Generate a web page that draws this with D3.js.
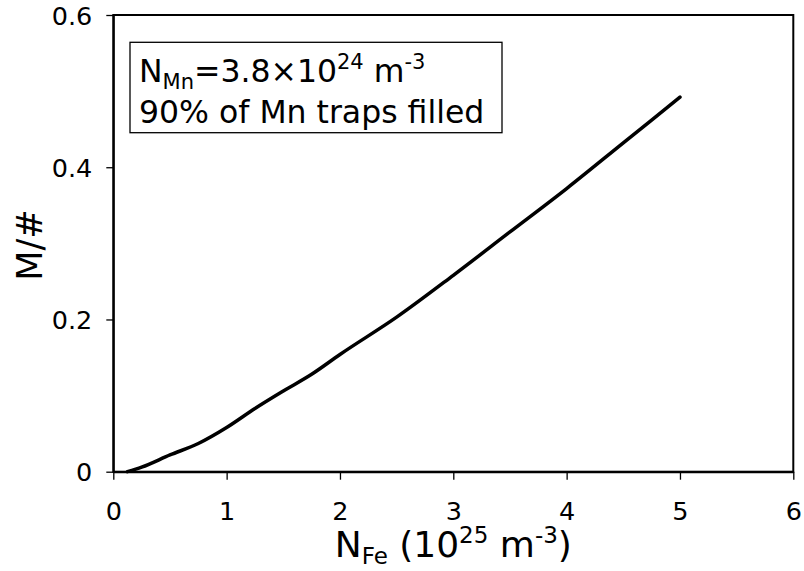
<!DOCTYPE html>
<html>
<head>
<meta charset="utf-8">
<script src="https://cdn.jsdelivr.net/npm/d3@7"></script>
<style>
  body { margin: 0; background: #fff; }
  svg text { font-family: "DejaVu Sans", Verdana, sans-serif; fill: #000; }
</style>
</head>
<body>
<div id="chart"></div>
<script>
(function () {

    var width = 804;
    var height = 571;

    // N_Fe in 10^25 m^-3, magnetisation per formula unit
    var nFe = [0.125, 0.25, 0.5, 0.75, 1.0, 1.25, 1.5, 1.75, 2.0, 2.5, 3.0, 3.5, 4.0, 4.5, 5.0];
    var moment = [0.0, 0.006, 0.022, 0.037, 0.058, 0.083, 0.106, 0.128, 0.154, 0.203, 0.258, 0.315, 0.372, 0.432, 0.492];

    var xTicks = [0, 1, 2, 3, 4, 5, 6];
    var yTicks = [0, 0.2, 0.4, 0.6];
    var yTickLabels = ["0", "0.2", "0.4", "0.6"];

    var margin = { left: 113.3, right: 10.7, top: 15, bottom: 99.3 };
    var w = width - margin.left - margin.right;
    var h = height - margin.top - margin.bottom;

    var svg = d3.select("#chart")
        .append("svg")
        .attr("width", width)
        .attr("height", height);

    var g = svg.append("g")
        .attr("transform", "translate(" + margin.left + "," + margin.top + ")");

    var x = d3.scaleLinear().domain([0, 6]).range([0, w]);
    var y = d3.scaleLinear().domain([0, 0.6]).range([h, 0]);

    // plot frame
    g.append("rect")
        .attr("width", w)
        .attr("height", h)
        .attr("fill", "none")
        .attr("stroke", "#000")
        .attr("stroke-width", 2);

    var xAxis = g.append("g")
        .attr("transform", "translate(0," + h + ")")
        .call(d3.axisBottom(x).tickValues(xTicks).tickSize(8).tickSizeOuter(0).tickPadding(22)
            .tickFormat(d3.format("d")));

    var yAxis = g.append("g")
        .call(d3.axisLeft(y).tickValues(yTicks).tickSize(7).tickSizeOuter(0).tickPadding(14)
            .tickFormat(function (d, i) { return yTickLabels[i]; }));

    [xAxis, yAxis].forEach(function (a) {
        a.select(".domain").attr("stroke", "#000").attr("stroke-width", 2);
        a.selectAll(".tick line").attr("stroke", "#000").attr("stroke-width", 1.3);
        a.selectAll(".tick text")
            .style("font-family", "DejaVu Sans, Verdana, sans-serif")
            .style("font-size", "25.5px")
            .attr("fill", "#000");
    });
    yAxis.selectAll(".tick text").attr("dy", "0.36em");

    // curve
    var pts = nFe.map(function (v, i) { return [v, moment[i]]; });
    var line = d3.line()
        .x(function (d) { return x(d[0]); })
        .y(function (d) { return y(d[1]); })
        .curve(d3.curveMonotoneX);

    g.append("path")
        .datum(pts)
        .attr("d", line)
        .attr("fill", "none")
        .attr("stroke", "#000")
        .attr("stroke-width", 3.5)
        .attr("stroke-linecap", "round");

    // axis titles
    var xt = svg.append("text")
        .attr("x", margin.left + w / 2)
        .attr("y", 556.7)
        .attr("text-anchor", "middle")
        .style("font-size", "36px");
    xt.append("tspan").text("N");
    xt.append("tspan").attr("dy", 7).style("font-size", "23px").text("Fe");
    xt.append("tspan").attr("dy", -7).text(" (10");
    xt.append("tspan").attr("dy", -14).style("font-size", "23px").text("25");
    xt.append("tspan").attr("dy", 14).text(" m");
    xt.append("tspan").attr("dy", -14).style("font-size", "23px").text("-3");
    xt.append("tspan").attr("dy", 14).text(")");

    svg.append("text")
        .attr("transform", "translate(42,245) rotate(-90)")
        .attr("text-anchor", "middle")
        .style("font-size", "35px")
        .text("M/#");

    // note box
    svg.append("rect")
        .attr("x", 130)
        .attr("y", 42.3)
        .attr("width", 372)
        .attr("height", 90.4)
        .attr("fill", "#fff")
        .attr("stroke", "#000")
        .attr("stroke-width", 1.3);

    var l1 = svg.append("text")
        .attr("x", 139)
        .attr("y", 81.7)
        .style("font-size", "31.5px");
    l1.append("tspan").text("N");
    l1.append("tspan").attr("dy", 7).style("font-size", "21px").text("Mn");
    l1.append("tspan").attr("dy", -7).text("=3.8\u00d710");
    l1.append("tspan").attr("dy", -13).style("font-size", "21px").text("24");
    l1.append("tspan").attr("dy", 13).text(" m");
    l1.append("tspan").attr("dy", -13).style("font-size", "21px").text("-3");

    svg.append("text")
        .attr("x", 139)
        .attr("y", 123)
        .style("font-size", "31.5px")
        .text("90% of Mn traps filled");

})();
</script>
</body>
</html>
